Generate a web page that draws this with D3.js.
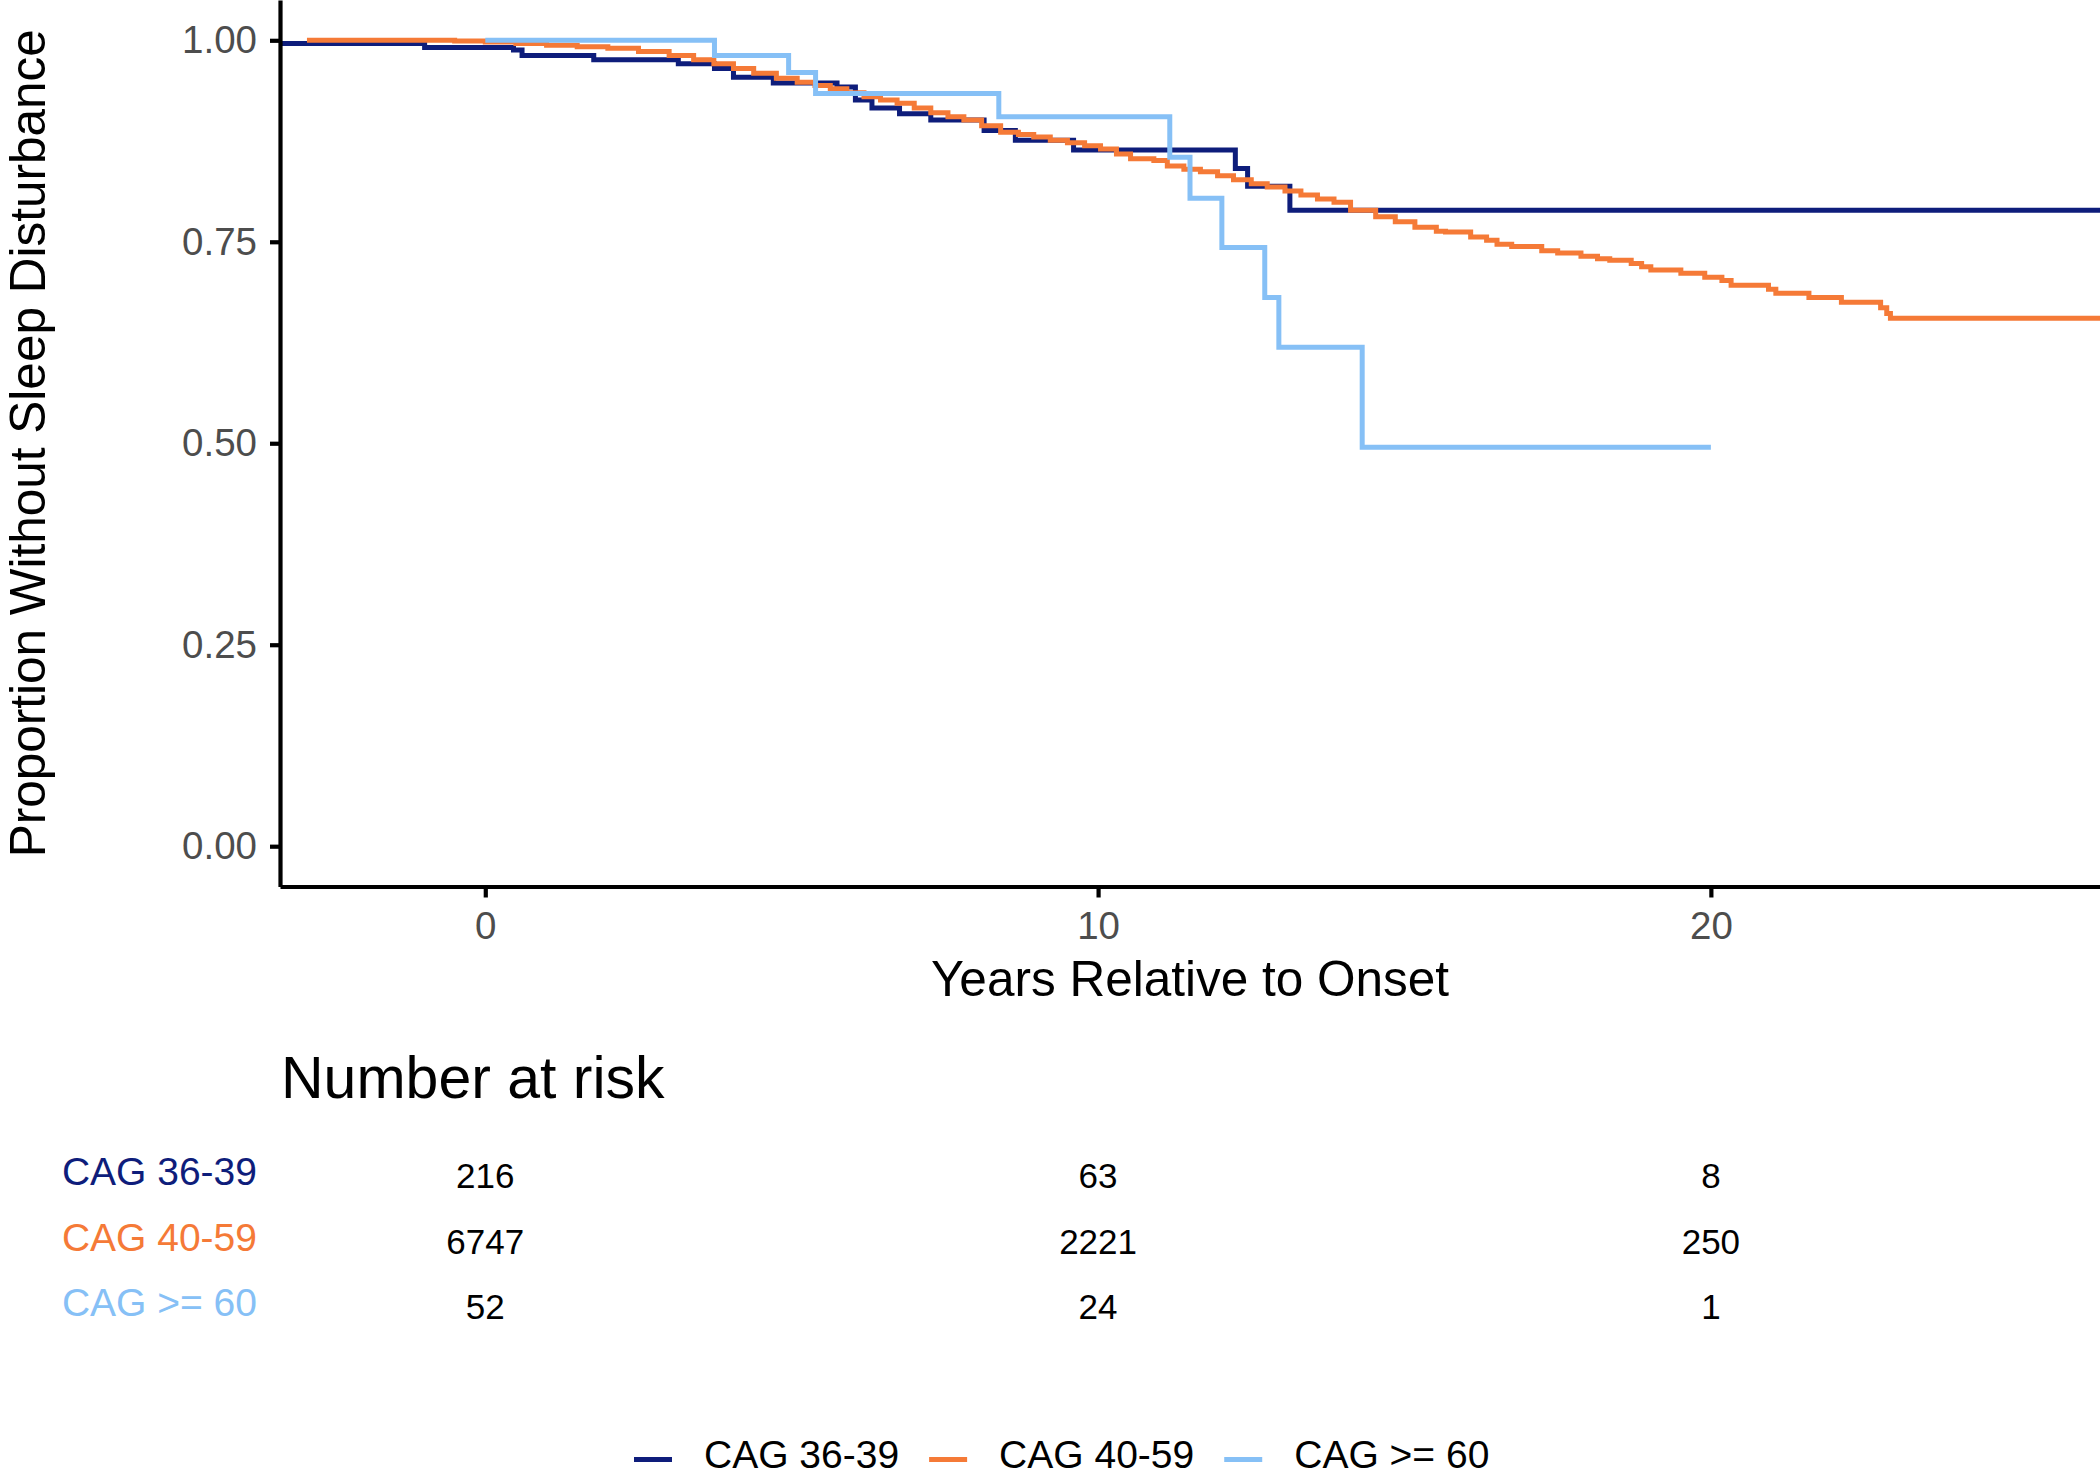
<!DOCTYPE html>
<html>
<head>
<meta charset="utf-8">
<script src="https://cdn.jsdelivr.net/npm/d3@7"></script>
<style>
  html, body { margin: 0; padding: 0; background: #ffffff; }
  svg { display: block; }
  text { font-family: "Liberation Sans", Arial, sans-serif; }
</style>
</head>
<body>
<svg id="chart" width="2100" height="1475"></svg>
<script>
// ---------------- DATA ----------------
const groups = ["CAG 36-39", "CAG 40-59", "CAG >= 60"];
const groupColors = ["#0E1D7B", "#F57A37", "#86C0F6"];

// CAG 36-39 (Kaplan-Meier steps)
const cag3639Times = [-3.35, -0.99, 0.46, 0.6, 1.77, 3.15, 3.74, 4.05, 4.7, 5.74, 6.04, 6.31, 6.76, 7.27, 8.14, 8.65, 9.6, 12.24, 12.44, 13.13, 26.6];
const cag3639Surv  = [0.996, 0.991, 0.988, 0.981, 0.976, 0.971, 0.965, 0.954, 0.947, 0.942, 0.926, 0.916, 0.909, 0.901, 0.888, 0.876, 0.864, 0.841, 0.819, 0.789, 0.789];

// CAG 40-59
const cag4059Times = [-2.91, -0.5, 0.0, 0.5, 1.0, 1.5, 2.0, 2.5, 3.0, 3.4, 3.73, 4.05, 4.38, 4.75, 5.09, 5.38, 5.63, 5.9, 6.18, 6.45, 6.72, 7.0, 7.27, 7.55, 7.81, 8.1, 8.41, 8.7, 8.95, 9.22, 9.5, 9.78, 10.04, 10.3, 10.53, 10.91, 11.13, 11.4, 11.67, 11.95, 12.21, 12.5, 12.76, 13.05, 13.31, 13.58, 13.85, 14.12, 14.53, 14.85, 15.17, 15.52, 15.67, 16.08, 16.34, 16.51, 16.75, 17.24, 17.5, 17.88, 18.15, 18.35, 18.7, 18.87, 19.02, 19.51, 19.9, 20.18, 20.33, 20.94, 21.06, 21.6, 22.13, 22.77, 22.87, 22.93, 26.6];
const cag4059Surv  = [1.0, 0.999, 0.998, 0.996, 0.994, 0.992, 0.990, 0.986, 0.981, 0.976, 0.971, 0.965, 0.959, 0.953, 0.948, 0.944, 0.940, 0.935, 0.930, 0.926, 0.922, 0.916, 0.910, 0.905, 0.901, 0.894, 0.886, 0.883, 0.880, 0.876, 0.873, 0.869, 0.865, 0.859, 0.853, 0.851, 0.844, 0.840, 0.837, 0.832, 0.827, 0.822, 0.818, 0.813, 0.808, 0.803, 0.799, 0.789, 0.781, 0.775, 0.768, 0.763, 0.762, 0.756, 0.752, 0.747, 0.744, 0.739, 0.736, 0.732, 0.729, 0.727, 0.723, 0.719, 0.715, 0.711, 0.706, 0.702, 0.696, 0.691, 0.686, 0.681, 0.675, 0.668, 0.661, 0.655, 0.655];

// CAG >= 60
const cag60Times = [0.0, 3.74, 4.95, 5.39, 8.38, 11.17, 11.5, 12.02, 12.72, 12.95, 14.31, 20.0];
const cag60Surv  = [1.0, 0.981, 0.960, 0.934, 0.905, 0.855, 0.804, 0.743, 0.681, 0.619, 0.495, 0.495];

// Axis ticks
const xTicks = [0, 10, 20];
const yTicks = [0, 0.25, 0.5, 0.75, 1];

// Number at risk table (at x = 0, 10, 20)
const riskTimes = [0, 10, 20];
const riskCag3639 = [216, 63, 8];
const riskCag4059 = [6747, 2221, 250];
const riskCag60 = [52, 24, 1];

// ---------------- LAYOUT ----------------
const svg = d3.select("#chart");
const plotLeft = 280, plotRight = 2100, plotTop = 0, plotBottom = 886.5;

const x = d3.scaleLinear().domain([-3.35, 26.35]).range([plotLeft, plotRight]);
const y = d3.scaleLinear().domain([-0.05, 1.05]).range([plotBottom, plotTop]);

svg.append("defs").append("clipPath").attr("id", "plotclip")
  .append("rect").attr("x", plotLeft).attr("y", plotTop)
  .attr("width", plotRight - plotLeft).attr("height", plotBottom - plotTop);

const seriesData = [
  d3.zip(cag3639Times, cag3639Surv),
  d3.zip(cag4059Times, cag4059Surv),
  d3.zip(cag60Times, cag60Surv)
];

const line = d3.line()
  .x(d => x(d[0]))
  .y(d => y(d[1]))
  .curve(d3.curveStepAfter);

const curves = svg.append("g").attr("clip-path", "url(#plotclip)");
seriesData.forEach((pts, i) => {
  curves.append("path")
    .datum(pts)
    .attr("d", line)
    .attr("fill", "none")
    .attr("stroke", groupColors[i])
    .attr("stroke-width", 5)
    .attr("stroke-linejoin", "miter");
});

// Axes
const tickFont = 38.5;
const yAxis = svg.append("g")
  .attr("transform", `translate(${plotLeft},0)`)
  .call(d3.axisLeft(y).tickValues(yTicks).tickFormat(d3.format(".2f"))
        .tickSize(10).tickSizeOuter(0).tickPadding(13));
const xAxis = svg.append("g")
  .attr("transform", `translate(0,${plotBottom})`)
  .call(d3.axisBottom(x).tickValues(xTicks).tickFormat(d3.format("d"))
        .tickSize(11).tickSizeOuter(0).tickPadding(14));

[yAxis, xAxis].forEach(a => {
  a.select(".domain").attr("stroke", "#000").attr("stroke-width", 4.2);
  a.selectAll(".tick line").attr("stroke", "#000").attr("stroke-width", 4.2);
  a.selectAll(".tick text")
    .attr("fill", "#4D4D4D")
    .style("font-size", tickFont + "px")
    .style("font-family", "'Liberation Sans', Arial, sans-serif");
});

// Axis titles
svg.append("text")
  .attr("transform", `translate(45,${(plotTop + plotBottom) / 2}) rotate(-90)`)
  .attr("text-anchor", "middle")
  .style("font-size", "49.5px")
  .attr("fill", "#000")
  .text("Proportion Without Sleep Disturbance");

svg.append("text")
  .attr("x", (plotLeft + plotRight) / 2)
  .attr("y", 996)
  .attr("text-anchor", "middle")
  .style("font-size", "49.5px")
  .attr("fill", "#000")
  .text("Years Relative to Onset");

// Number at risk
svg.append("text")
  .attr("x", 281)
  .attr("y", 1098)
  .style("font-size", "59px")
  .attr("fill", "#000")
  .text("Number at risk");

const riskRows = [riskCag3639, riskCag4059, riskCag60];
const labelBaselines = [1185, 1250.5, 1315.5];
const numBaselines = [1188, 1253.5, 1318.5];
riskRows.forEach((row, i) => {
  svg.append("text")
    .attr("x", 257)
    .attr("y", labelBaselines[i])
    .attr("text-anchor", "end")
    .style("font-size", "39px")
    .attr("fill", groupColors[i])
    .text(groups[i]);
  svg.append("g").selectAll("text")
    .data(d3.zip(riskTimes, row))
    .join("text")
    .attr("x", d => x(d[0]))
    .attr("y", numBaselines[i])
    .attr("text-anchor", "middle")
    .style("font-size", "35px")
    .attr("fill", "#000")
    .text(d => d[1]);
});

// Legend
const legend = svg.append("g");
let lx = 634;
const keyLen = 38, keyGap = 32, itemGap = 30, legendY = 1459.5;
groups.forEach((g, i) => {
  legend.append("line")
    .attr("x1", lx).attr("x2", lx + keyLen)
    .attr("y1", legendY).attr("y2", legendY)
    .attr("stroke", groupColors[i]).attr("stroke-width", 5);
  const t = legend.append("text")
    .attr("x", lx + keyLen + keyGap)
    .attr("y", 1468)
    .style("font-size", "39px")
    .attr("fill", "#000")
    .text(g);
  const w = t.node().getComputedTextLength();
  lx = lx + keyLen + keyGap + w + itemGap;
});
</script>
</body>
</html>
